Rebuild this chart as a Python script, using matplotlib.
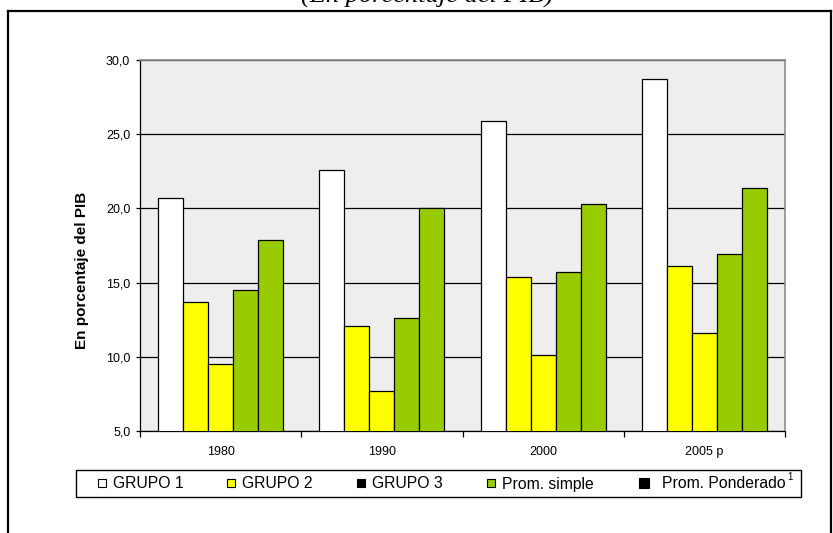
import matplotlib.pyplot as plt
from matplotlib.patches import Rectangle
from matplotlib.lines import Line2D
from matplotlib.ticker import FuncFormatter, FixedLocator

plt.rcParams['font.family'] = ['Liberation Sans', 'DejaVu Sans']

years = ['1980', '1990', '2000', '2005 p']
series = ['GRUPO 1', 'GRUPO 2', 'GRUPO 3', 'Prom. simple', 'Prom. Ponderado']
grupo1 = [20.7, 22.6, 25.9, 28.7]
grupo2 = [13.7, 12.1, 15.4, 16.1]
grupo3 = [9.5, 7.7, 10.1, 11.6]
prom_simple = [14.5, 12.6, 15.7, 16.9]
prom_ponderado = [17.9, 20.0, 20.3, 21.4]
values = [grupo1, grupo2, grupo3, prom_simple, prom_ponderado]

bar_colors = ['white', '#FFFF00', '#FFFF00', '#99CC00', '#99CC00']
legend_colors = ['white', '#FFFF00', 'black', '#99CC00', 'black']

W, H = 833, 533
fig = plt.figure(figsize=(W / 100, H / 100), dpi=100)


def fx(x):
    return x / W


def fy(y):
    return 1 - y / H


# outer frame
for xs, ys in [((8, 8), (11, H)), ((8, 831), (11, 11)), ((831, 831), (11, H))]:
    fig.add_artist(Line2D([fx(v) for v in xs], [fy(v) for v in ys],
                          color='black', lw=1.6))

fig.text(fx(427), fy(2.5), '(En porcentaje del PIB)', family='Liberation Serif',
         style='italic', fontsize=19, ha='center', va='baseline')

ax = fig.add_axes([fx(140), fy(431), 645 / W, 371 / H])
ax.set_facecolor('#eeeeee')

width = 0.155
for k, (vals, col) in enumerate(zip(values, bar_colors)):
    xs = [i + (k - 2) * width for i in range(len(years))]
    ax.bar(xs, vals, width=width, color=col, edgecolor='black', lw=0.9, zorder=3)

ax.set_xlim(-0.5, len(years) - 0.5)
ax.set_ylim(5, 30)
ax.set_yticks([5, 10, 15, 20, 25, 30])
ax.yaxis.set_major_formatter(FuncFormatter(lambda v, p: f'{v:.1f}'.replace('.', ',')))
ax.yaxis.grid(True, color='black', lw=0.9, zorder=1)
ax.set_axisbelow(True)

ax.xaxis.set_major_locator(FixedLocator([i - 0.5 for i in range(len(years) + 1)]))
ax.xaxis.set_major_formatter(FuncFormatter(lambda v, p: ''))
ax.xaxis.set_minor_locator(FixedLocator(list(range(len(years)))))
ax.set_xticklabels(years, minor=True)
ax.tick_params(axis='x', which='minor', length=0, pad=11, labelsize=9)
ax.tick_params(axis='x', which='major', direction='out', length=4, width=0.9)
ax.tick_params(axis='y', direction='out', length=3, width=0.9, pad=4, labelsize=9)

for side in ['left', 'bottom']:
    ax.spines[side].set_color('black')
    ax.spines[side].set_linewidth(0.9)
for side in ['top', 'right']:
    ax.spines[side].set_color('#8c8c8c')
    ax.spines[side].set_linewidth(1.2)

fig.text(fx(82), fy(270), 'En porcentaje del PIB', rotation=90, fontsize=11,
         fontweight='bold', ha='center', va='center')

# legend
fig.add_artist(Rectangle((fx(76), fy(497)), 725 / W, 27 / H, transform=fig.transFigure,
                         facecolor='white', edgecolor='black', lw=1.0))
sq_x = [98, 227, 357, 487, 639]
txt_x = [113, 242, 372, 502, 662]
for name, col, sx, tx in zip(series, legend_colors, sq_x, txt_x):
    size = 10 if sx > 600 else 8
    fig.add_artist(Rectangle((fx(sx), fy(483 + size / 2)), size / W, size / H,
                             transform=fig.transFigure, facecolor=col,
                             edgecolor='black', lw=0.8))
    fig.text(fx(tx), fy(488.5), name, fontsize=11.3, ha='left', va='baseline')
# footnote mark after the last legend entry
fig.text(fx(787), fy(477), '1', fontsize=7, ha='left', va='center')

fig.savefig('out.png', dpi=100)
